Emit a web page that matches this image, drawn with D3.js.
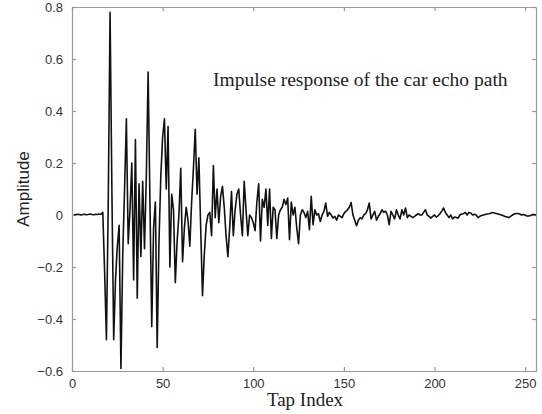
<!DOCTYPE html>
<html>
<head>
<meta charset="utf-8">
<script src="https://cdn.jsdelivr.net/npm/d3@7"></script>
<style>
  body { margin: 0; background: #fff; }
  svg { display: block; }
</style>
</head>
<body>
<script>
// tap values 1..256
var head = [0.002, 0.001, 0.003, 0.002, 0.000, 0.002, 0.003, 0.001, 0.002, 0.004,
            0.002, 0.001, 0.003, 0.002, 0.004, 0.003, 0.010];
var early = [-0.22, -0.48, 0.05, 0.78, 0.10, -0.48, -0.25, -0.12, -0.04, -0.59,
             -0.15, 0.10, 0.37, -0.11, 0.02, 0.20, -0.25, 0.29, -0.32, 0.12,
             -0.16, 0.13, -0.13, 0.15, 0.55, 0.05, -0.43, -0.05, 0.05, -0.51,
             -0.10, 0.15, 0.30, 0.37, 0.10, 0.34, -0.20, 0.08, 0.02, -0.26,
             -0.10, 0.00, 0.18, -0.18, -0.05, 0.03, -0.02, -0.12, 0.05, 0.18,
             0.33, 0.08, 0.22, -0.05, -0.31, -0.15, -0.04, 0.00, 0.01, -0.08];
var middle = [0.19, -0.01, 0.10, -0.03, 0.07, 0.11, 0.03, -0.08, -0.16, -0.05,
              0.09, -0.08, 0.02, 0.08, 0.10, 0.00, -0.08, 0.13, 0.02, -0.08,
              0.00, -0.01, -0.03, -0.06, 0.05, 0.12, -0.10, 0.06, 0.03, 0.10,
              -0.04, 0.10, -0.09, 0.03, 0.02, -0.09, 0.00, 0.02, 0.03, 0.06,
              0.04, 0.065, -0.095, 0.05, 0.00, 0.03, -0.05, -0.11, 0.00, 0.02,
              0.01, -0.01, 0.014, -0.057, 0.072, -0.037, 0.02, 0.00, 0.005, -0.025,
              0.00, 0.014, 0.046, -0.005, 0.01, 0.00, -0.012, -0.005, -0.02, 0.00,
              -0.005, -0.01, 0.005, 0.014, 0.02, 0.03, 0.048, 0.00, -0.02, -0.041];
var tail = [-0.02, -0.01, -0.015, 0.00, 0.005, 0.02, 0.046, -0.015, 0.00, 0.014,
            -0.02, -0.005, 0.005, 0.02, 0.01, 0.015, 0.00, -0.037, 0.014, 0.00,
            -0.015, 0.02, 0.00, -0.015, 0.02, 0.00, 0.027, -0.01, 0.00, -0.005,
            -0.01, -0.005, 0.00, 0.005, 0.00, 0.00, 0.01, 0.02, 0.00, -0.005,
            -0.012, -0.005, 0.00, -0.008, -0.003, 0.005, 0.015, 0.027, 0.01, 0.00,
            -0.01, 0.00, -0.015, -0.008, -0.01, -0.012, 0.00, 0.004, 0.005, 0.01,
            0.00, 0.01, 0.008, 0.00, 0.003, 0.00, -0.01, -0.005, -0.002, 0.00,
            0.002, 0.004, 0.005, 0.007, 0.01, 0.008, 0.006, 0.004, 0.002, 0.00,
            -0.003, -0.006, -0.008, -0.01, -0.005, 0.00, 0.004, 0.006, 0.006, 0.004,
            0.00, 0.002, 0.00, -0.004, -0.004, -0.002, 0.002, 0.002, 0.00];
var taps = head.concat(early, middle, tail);

var xTicks = [0, 50, 100, 150, 200, 250];
var yTicks = [-0.6, -0.4, -0.2, 0, 0.2, 0.4, 0.6, 0.8];
var titleText = "Impulse response of the car echo path";

var W = 542, H = 414;
var pLeft = 72, pRight = 536, pTop = 7, pBottom = 371;

var x = d3.scaleLinear().domain([0, 256]).range([pLeft, pRight]);
var y = d3.scaleLinear().domain([-0.6, 0.8]).range([pBottom, pTop]);

var svg = d3.select("body").append("svg")
    .attr("width", W)
    .attr("height", H);

var fmtY = function(d){ return d === 0 ? "0" : d3.format(".1f")(d).replace("-", "\u2212"); };

// axes, ticks inside, box like matlab
svg.append("g").attr("transform", "translate(0," + pBottom + ")")
    .call(d3.axisBottom(x).tickValues(xTicks).tickSizeInner(-4).tickSizeOuter(0).tickPadding(8));
svg.append("g").attr("transform", "translate(0," + pTop + ")")
    .call(d3.axisTop(x).tickValues(xTicks).tickSizeInner(-4).tickSizeOuter(0).tickFormat(""));
svg.append("g").attr("transform", "translate(" + pLeft + ",0)")
    .call(d3.axisLeft(y).tickValues(yTicks).tickSizeInner(-4).tickSizeOuter(0).tickPadding(9).tickFormat(fmtY));
svg.append("g").attr("transform", "translate(" + pRight + ",0)")
    .call(d3.axisRight(y).tickValues(yTicks).tickSizeInner(-4).tickSizeOuter(0).tickFormat(""));

svg.selectAll(".domain, .tick line").attr("stroke", "#999").attr("stroke-width", 1.2);
svg.selectAll(".tick text")
    .attr("font-family", "Liberation Sans, Arial, sans-serif")
    .attr("font-size", 13)
    .attr("fill", "#333");

// the response
var line = d3.line()
    .x(function(d, i){ return x(i + 1); })
    .y(function(d){ return y(d); });

svg.append("path")
    .datum(taps)
    .attr("d", line)
    .attr("fill", "none")
    .attr("stroke", "#111")
    .attr("stroke-width", 1.6)
    .attr("stroke-linejoin", "round");

svg.append("text")
    .attr("x", 213).attr("y", 86)
    .attr("font-family", "Liberation Serif, Times New Roman, serif")
    .attr("font-size", 19.5)
    .attr("fill", "#222")
    .text(titleText);

svg.append("text")
    .attr("x", (pLeft + pRight) / 2 + 1).attr("y", 406)
    .attr("text-anchor", "middle")
    .attr("font-family", "Liberation Serif, Times New Roman, serif")
    .attr("font-size", 19)
    .attr("fill", "#222")
    .text("Tap Index");

svg.append("text")
    .attr("transform", "translate(29," + (pTop + pBottom) / 2 + ") rotate(-90)")
    .attr("text-anchor", "middle")
    .attr("font-family", "Liberation Sans, Arial, sans-serif")
    .attr("font-size", 17)
    .attr("fill", "#222")
    .text("Amplitude");
</script>
</body>
</html>
